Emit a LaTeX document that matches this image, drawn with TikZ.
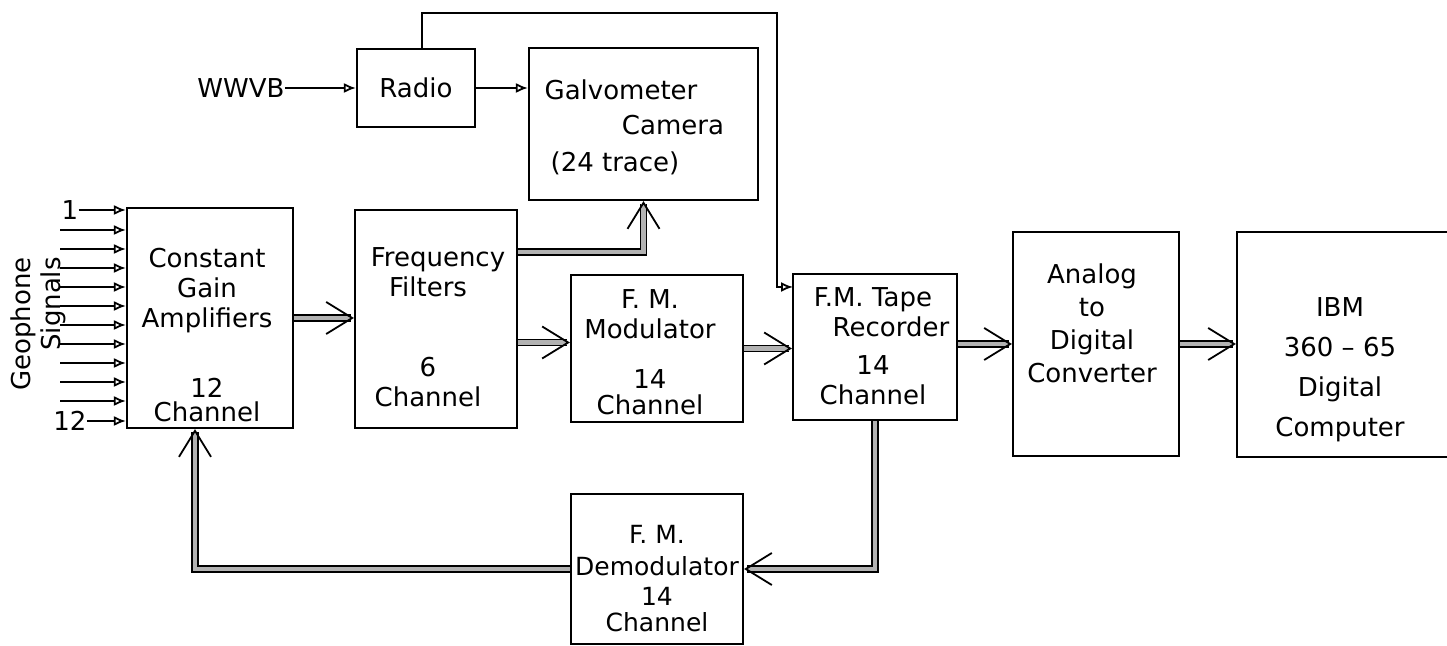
\documentclass[tikz,border=0pt]{standalone}
\usepackage{fontspec}
\setmainfont{DejaVu Sans}
\usetikzlibrary{arrows.meta,fit}

\newcommand{\lblfont}{\fontsize{13}{15}\selectfont}
\tikzset{
  blk/.style={draw, line width=1.1pt, inner sep=0pt},
  lbl/.style={align=center, inner sep=0pt, font=\lblfont},
  sig/.style={line width=0.9pt, -{Latex[open,length=6pt,width=5pt]}},
  bus/.style={draw, line width=0.6pt, double=black!30, double distance=2.4pt,
    -{Straight Barb[length=13pt,width=16pt,line width=0.9pt]}},
}

\begin{document}
\begin{tikzpicture}[x=0.5pt,y=-0.5pt]
\useasboundingbox (0,0) rectangle (1447,646);

% blocks
\node[blk, fit={(357,49) (475,127)}] (radio) {};
\node[blk, fit={(529,48) (758,200)}] (galvo) {};
\node[blk, fit={(127,208) (293,428)}] (amp) {};
\node[blk, fit={(355,210) (517,428)}] (filt) {};
\node[blk, fit={(571,275) (743,422)}] (mod) {};
\node[blk, fit={(793,274) (957,420)}] (tape) {};
\node[blk, fit={(1013,232) (1179,456)}] (adc) {};
\node[blk, fit={(1237,232) (1460,457)}] (ibm) {};
\node[blk, fit={(571,494) (743,644)}] (demod) {};

% texts
\node[lbl] (wwvb) at (241,88) {WWVB};
\node[lbl] (radio-t) at (416,88) {Radio};
\node[lbl] (galvo-a) at (621,90) {Galvometer};
\node[lbl] (galvo-b) at (673,125) {Camera};
\node[lbl] (galvo-c) at (615,163) {(24 trace)};
\node[lbl] (amp-t) at (207,335) {Constant\\Gain\\Amplifiers\\[20pt]12\\[-3pt]Channel};
\node[lbl] (filt-t) at (428,327) {\hspace*{10pt}Frequency\\Filters\\[25pt]6\\Channel};
\node[lbl] (mod-t) at (650,352) {F. M.\\Modulator\\[10pt]14\\[-2pt]Channel};
\node[lbl] (tape-t) at (873,346) {F.M. Tape\\\hspace*{18pt}Recorder\\[4pt]14\\Channel};
\node[lbl] (adc-t) at (1092,323) {Analog\\[1.5pt]to\\[1.5pt]Digital\\[1.5pt]Converter};
\node[lbl] (ibm-t) at (1340,370) {IBM\\[5pt]360 – 65\\[5pt]Digital\\[5pt]Computer};
\node[lbl, font=\fontsize{12.5}{15}\selectfont] (demod-t) at (657,579) {F. M.\\[1pt]Demodulator\\14\\[-2pt]Channel};
\node[lbl, rotate=90, align=right] (geo) at (38,324) {Geophone\\Signals};

% geophone inputs
\node[lbl] (in1) at (70,210) {1};
\node[lbl] (in12) at (70,421) {12};
\draw[sig] (in1.east) -- (in1.east -| amp.west);
\foreach \i in {2,...,11}{
  \coordinate (g\i) at (60,{192+19*\i});
  \draw[sig] (g\i) -- (g\i -| amp.west);
}
\draw[sig] (in12.east) -- (in12.east -| amp.west);

% timing
\coordinate (top) at (777,13);
\coordinate (tapein) at (793,287);
\draw[sig] (wwvb) -- (radio);
\draw[sig] (radio) -- (radio -| galvo.west);
\draw[sig] ([xshift=3pt]radio.north) |- (top) |- (tapein);

% data path
\draw[bus] (amp.east) -- (amp.east -| filt.west);
\draw[bus] ([yshift=33.5pt]filt.east) -| (galvo.south);
\draw[bus] ([yshift=3pt]mod.west -| filt.east) -- ([yshift=3pt]mod.west);
\draw[bus] (mod.east) -- (mod.east -| tape.west);
\draw[bus] (adc.west -| tape.east) -- (adc.west);
\draw[bus] (adc.east) -- (adc.east -| ibm.west);
\draw[bus] (tape.south) |- (demod.east);
\draw[bus] (demod.west) -| ([xshift=-7.5pt]amp.south);
\end{tikzpicture}
\end{document}
